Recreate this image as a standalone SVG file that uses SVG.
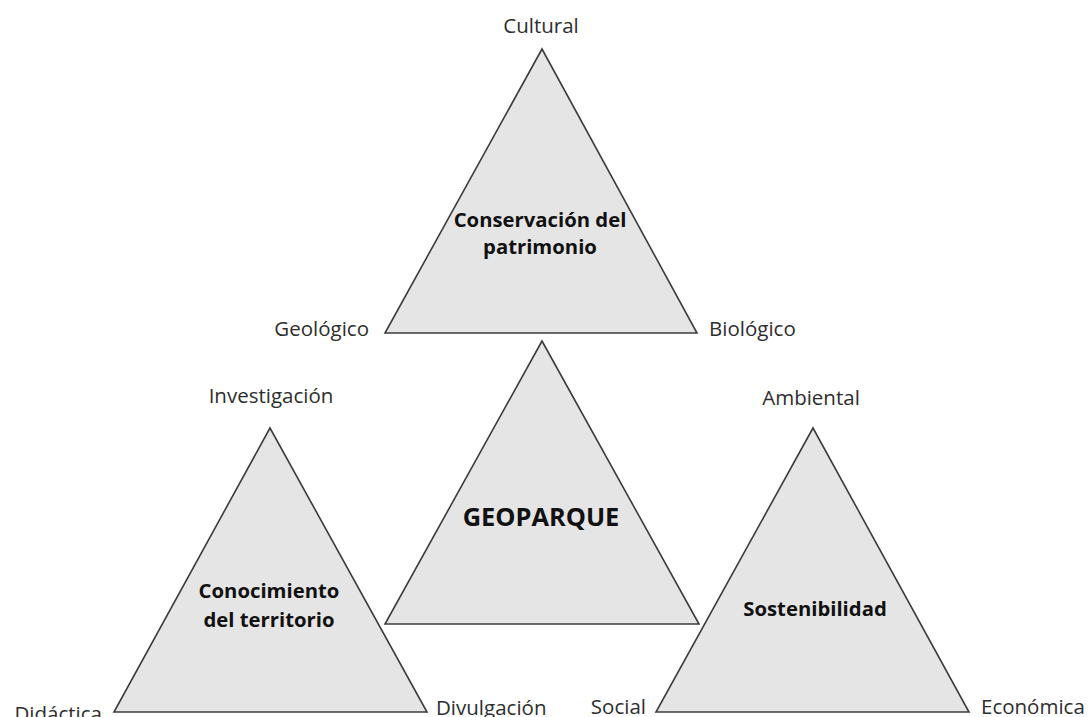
<svg xmlns="http://www.w3.org/2000/svg" width="1088" height="717" viewBox="0 0 1088 717">
<style>
.tri{fill:#e5e5e6;stroke:#3c3c3c;stroke-width:1.6;stroke-linejoin:miter}
.lbl{font-family:"Open Sans","Liberation Sans",sans-serif;font-size:20.5px;fill:#2e2e2e}
.ttl{font-family:"Open Sans","Liberation Sans",sans-serif;font-size:20.3px;font-weight:bold;fill:#111;text-anchor:middle}
.big{font-family:"Open Sans","Liberation Sans",sans-serif;font-size:25.4px;font-weight:bold;fill:#111;text-anchor:middle}
</style>
<rect width="1088" height="717" fill="#ffffff"/>
<g id="connectors"></g>
<g id="conservacion">
<polygon class="tri" points="542,49 385,333 697,333"/>
<text class="ttl" x="540" y="227">Conservación del</text>
<text class="ttl" x="540" y="254">patrimonio</text>
<text class="lbl" x="541" y="33" text-anchor="middle">Cultural</text>
<text class="lbl" x="369" y="336" text-anchor="end">Geológico</text>
<text class="lbl" x="709" y="336">Biológico</text>
</g>
<g id="geoparque">
<polygon class="tri" points="542,341 385,624 699,624"/>
<text class="big" x="541" y="526">GEOPARQUE</text>
</g>
<g id="conocimiento">
<polygon class="tri" points="270,428 114,712 427,712"/>
<text class="ttl" x="269" y="598">Conocimiento</text>
<text class="ttl" x="269" y="627">del territorio</text>
<text class="lbl" x="271" y="403" text-anchor="middle">Investigación</text>
<text class="lbl" x="102" y="721" text-anchor="end">Didáctica</text>
<text class="lbl" x="436" y="715">Divulgación</text>
</g>
<g id="sostenibilidad">
<polygon class="tri" points="813,428 656,712 969,712"/>
<text class="ttl" x="815" y="616">Sostenibilidad</text>
<text class="lbl" x="811" y="405" text-anchor="middle">Ambiental</text>
<text class="lbl" x="646" y="714" text-anchor="end">Social</text>
<text class="lbl" x="981" y="714">Económica</text>
</g>
</svg>
